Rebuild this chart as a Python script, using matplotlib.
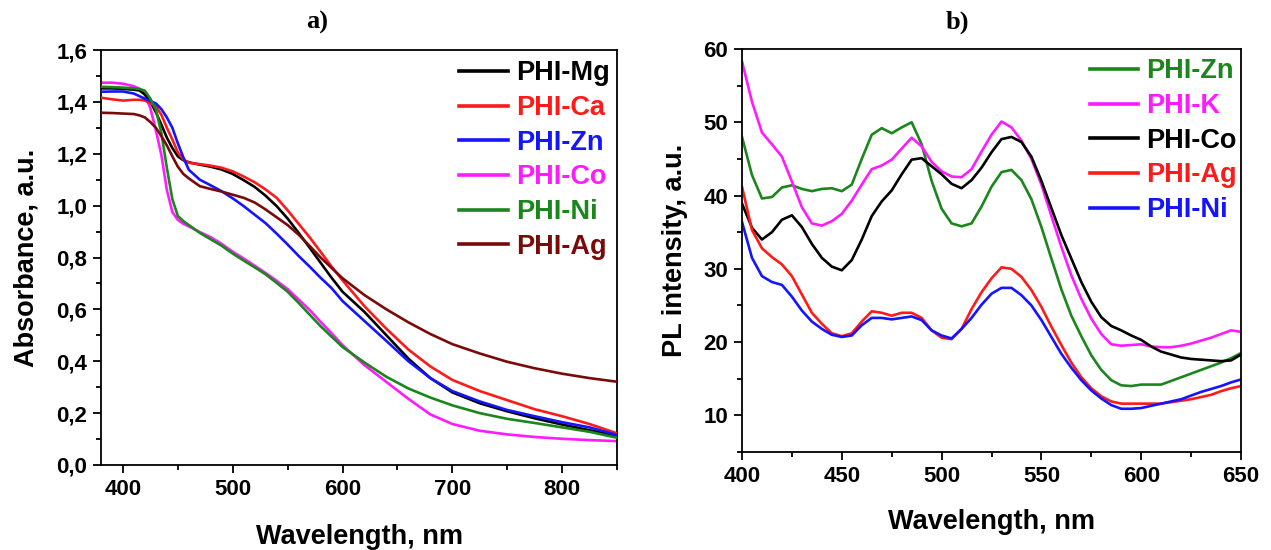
import matplotlib
matplotlib.use("Agg")
import matplotlib.pyplot as plt
from matplotlib.ticker import MultipleLocator, FuncFormatter

# ---------------- data: a) absorbance ----------------
wl_abs = [380, 390, 400, 410, 415, 420, 425, 430, 435, 440, 445, 450, 455, 460,
          470, 480, 490, 500, 510, 520, 530, 540, 550, 560, 570, 580, 590, 600,
          620, 640, 660, 680, 700, 725, 750, 775, 800, 825, 850]

abs_mg = [1.452, 1.452, 1.450, 1.447, 1.444, 1.428, 1.400, 1.360, 1.312, 1.262, 1.222, 1.190, 1.175, 1.167,
          1.158, 1.150, 1.139, 1.122, 1.098, 1.072, 1.038, 0.998, 0.950, 0.895, 0.838, 0.780, 0.722, 0.668,
          0.590, 0.500, 0.410, 0.335, 0.280, 0.238, 0.207, 0.180, 0.156, 0.134, 0.112]
abs_ca = [1.416, 1.410, 1.405, 1.408, 1.408, 1.405, 1.395, 1.383, 1.350, 1.300, 1.255, 1.205, 1.178, 1.165,
          1.160, 1.154, 1.146, 1.132, 1.112, 1.090, 1.062, 1.030, 0.982, 0.930, 0.878, 0.822, 0.765, 0.712,
          0.612, 0.525, 0.445, 0.380, 0.328, 0.285, 0.250, 0.215, 0.188, 0.158, 0.122]
abs_zn = [1.439, 1.440, 1.440, 1.432, 1.422, 1.412, 1.403, 1.394, 1.372, 1.340, 1.300, 1.240, 1.186, 1.138,
          1.100, 1.078, 1.055, 1.028, 0.998, 0.965, 0.932, 0.892, 0.850, 0.806, 0.765, 0.722, 0.682, 0.632,
          0.555, 0.478, 0.400, 0.335, 0.285, 0.245, 0.212, 0.188, 0.165, 0.145, 0.116]
abs_co = [1.474, 1.474, 1.470, 1.460, 1.450, 1.430, 1.375, 1.290, 1.195, 1.060, 0.975, 0.945, 0.930, 0.920,
          0.898, 0.878, 0.852, 0.822, 0.796, 0.768, 0.740, 0.710, 0.678, 0.638, 0.598, 0.552, 0.508, 0.462,
          0.385, 0.320, 0.255, 0.195, 0.158, 0.132, 0.118, 0.108, 0.101, 0.096, 0.092]
abs_ni = [1.458, 1.457, 1.455, 1.452, 1.450, 1.443, 1.412, 1.370, 1.280, 1.145, 1.025, 0.960, 0.940, 0.925,
          0.895, 0.870, 0.845, 0.815, 0.788, 0.762, 0.735, 0.702, 0.668, 0.625, 0.580, 0.535, 0.495, 0.455,
          0.395, 0.340, 0.295, 0.260, 0.230, 0.200, 0.178, 0.162, 0.145, 0.128, 0.105]
abs_ag = [1.358, 1.357, 1.355, 1.353, 1.348, 1.340, 1.322, 1.300, 1.268, 1.232, 1.190, 1.150, 1.122, 1.105,
          1.075, 1.064, 1.054, 1.042, 1.030, 1.012, 0.985, 0.955, 0.925, 0.888, 0.845, 0.800, 0.760, 0.720,
          0.655, 0.600, 0.550, 0.505, 0.466, 0.430, 0.398, 0.373, 0.352, 0.335, 0.321]

abs_labels = ["PHI-Mg", "PHI-Ca", "PHI-Zn", "PHI-Co", "PHI-Ni", "PHI-Ag"]

# ---------------- data: b) photoluminescence ----------------
wl_pl = list(range(400, 651, 5))

pl_zn = [48.0, 42.8, 39.6, 39.8, 41.1, 41.4, 40.9, 40.6, 40.9, 41.0, 40.6, 41.5, 45.0, 48.3, 49.2, 48.5,
         49.3, 50.0, 47.0, 42.0, 38.2, 36.2, 35.8, 36.2, 38.5, 41.2, 43.2, 43.5, 42.1, 39.5, 35.7, 31.4,
         27.2, 23.6, 20.8, 18.2, 16.2, 14.8, 14.1, 14.0, 14.2, 14.2, 14.2, 14.7, 15.2, 15.7, 16.2, 16.7,
         17.2, 17.8, 18.5]
pl_k = [58.3, 52.8, 48.6, 47.0, 45.3, 41.9, 38.4, 36.2, 35.9, 36.5, 37.5, 39.3, 41.5, 43.6, 44.1, 44.9,
        46.4, 47.9, 46.7, 44.6, 43.3, 42.6, 42.5, 43.6, 46.0, 48.3, 50.1, 49.3, 47.5, 45.0, 41.5, 37.2,
        33.0, 29.1, 25.9, 23.2, 21.1, 19.7, 19.5, 19.6, 19.7, 19.4, 19.3, 19.3, 19.5, 19.8, 20.2, 20.6,
        21.1, 21.6, 21.4]
pl_co = [38.9, 35.6, 34.0, 35.0, 36.7, 37.3, 35.7, 33.4, 31.5, 30.3, 29.8, 31.2, 34.0, 37.2, 39.2, 40.7,
         42.9, 44.9, 45.1, 44.0, 42.9, 41.6, 41.0, 42.1, 43.8, 45.9, 47.7, 48.0, 47.3, 45.3, 42.0, 38.3,
         34.6, 31.4, 28.2, 25.5, 23.4, 22.2, 21.6, 20.9, 20.3, 19.4, 18.7, 18.3, 17.9, 17.7, 17.6, 17.5,
         17.4, 17.5, 18.3]
pl_ag = [41.2, 35.3, 32.8, 31.6, 30.6, 29.0, 26.5, 24.0, 22.5, 21.2, 20.8, 21.2, 22.8, 24.2, 24.0, 23.6,
         24.0, 24.0, 23.3, 21.6, 20.6, 20.4, 21.8, 24.5, 26.8, 28.7, 30.2, 30.0, 28.9, 27.1, 24.8, 22.1,
         19.6, 17.2, 15.2, 13.7, 12.6, 11.9, 11.6, 11.6, 11.6, 11.6, 11.6, 11.8, 12.0, 12.2, 12.5, 12.8,
         13.3, 13.7, 14.0]
pl_ni = [36.4, 31.5, 29.0, 28.2, 27.8, 26.2, 24.3, 22.8, 21.8, 21.0, 20.7, 20.9, 22.3, 23.3, 23.3, 23.1,
         23.3, 23.5, 23.0, 21.6, 20.9, 20.5, 21.8, 23.3, 25.1, 26.6, 27.4, 27.4, 26.4, 25.0, 23.0, 20.7,
         18.4, 16.5, 14.8, 13.4, 12.3, 11.4, 10.9, 10.9, 11.0, 11.3, 11.6, 11.9, 12.2, 12.7, 13.2, 13.6,
         14.0, 14.5, 14.9]

pl_labels = ["PHI-Zn", "PHI-K", "PHI-Co", "PHI-Ag", "PHI-Ni"]

# ---------------- styling ----------------
C_BLACK = "#000000"
C_RED = "#ff1a1a"
C_BLUE = "#1414ff"
C_MAG = "#ff1aff"
C_GREEN = "#1b861b"
C_DRED = "#7a0a0a"

SANS = ["Liberation Sans", "DejaVu Sans"]
SERIF = ["Liberation Serif", "DejaVu Serif"]
plt.rcParams["font.family"] = SANS
plt.rcParams["font.weight"] = "bold"
plt.rcParams["axes.linewidth"] = 1.3

fig = plt.figure(figsize=(12.71, 5.50), dpi=100)
W, H = 1271.0, 550.0


def add_axes(x0, x1, y0, y1):
    return fig.add_axes([x0 / W, 1 - y1 / H, (x1 - x0) / W, (y1 - y0) / H])


def style(ax):
    ax.tick_params(which="both", direction="out", top=False, right=False,
                   labelsize=16, width=1.3, pad=4)
    ax.tick_params(which="major", length=6)
    ax.tick_params(which="minor", length=3.5)
    for lab in ax.get_xticklabels() + ax.get_yticklabels():
        lab.set_fontweight("bold")


LW = 1.9
LEG_PROP = {"family": SANS, "weight": "bold", "size": 19.5}

# ----- a) -----
ax1 = add_axes(101, 617, 50, 465)
series_a = [abs_mg, abs_ca, abs_zn, abs_co, abs_ni, abs_ag]
colors_a = [C_BLACK, C_RED, C_BLUE, C_MAG, C_GREEN, C_DRED]
zorders_a = [3, 4, 5, 2, 6, 7]
for ys, c, lab, z in zip(series_a, colors_a, abs_labels, zorders_a):
    ax1.plot(wl_abs, ys, color=c, lw=LW, label=lab, zorder=z)
ax1.set_xlim(380, 850)
ax1.set_ylim(0.0, 1.6)
ax1.xaxis.set_major_locator(MultipleLocator(100))
ax1.xaxis.set_minor_locator(MultipleLocator(50))
ax1.yaxis.set_major_locator(MultipleLocator(0.2))
ax1.yaxis.set_minor_locator(MultipleLocator(0.1))
ax1.yaxis.set_major_formatter(FuncFormatter(lambda v, p: f"{v:.1f}".replace(".", ",")))
style(ax1)
ax1.set_xlabel("Wavelength, nm", fontsize=19.5, fontweight="bold", labelpad=17)
ax1.set_ylabel("Absorbance, a.u.", fontsize=19.5, fontweight="bold", labelpad=12)
h, l = ax1.get_legend_handles_labels()
leg1 = ax1.legend(h, l, loc="upper left", bbox_to_anchor=(0.683, 0.988), frameon=False,
                  prop=LEG_PROP, handlelength=1.8, handletextpad=0.3, labelspacing=0.32,
                  borderaxespad=0, borderpad=0.2)
for txt, line in zip(leg1.get_texts(), leg1.get_lines()):
    txt.set_color(line.get_color())
    line.set_linewidth(2.6)

# ----- b) -----
ax2 = add_axes(742, 1241, 49, 452)
series_b = [pl_zn, pl_k, pl_co, pl_ag, pl_ni]
colors_b = [C_GREEN, C_MAG, C_BLACK, C_RED, C_BLUE]
for ys, c, lab in zip(series_b, colors_b, pl_labels):
    ax2.plot(wl_pl, ys, color=c, lw=LW, label=lab)
ax2.set_xlim(400, 650)
ax2.set_ylim(5, 60)
ax2.xaxis.set_major_locator(MultipleLocator(50))
ax2.xaxis.set_minor_locator(MultipleLocator(25))
ax2.yaxis.set_major_locator(MultipleLocator(10))
ax2.yaxis.set_minor_locator(MultipleLocator(5))
ax2.set_yticks([10, 20, 30, 40, 50, 60])
style(ax2)
ax2.set_xlabel("Wavelength, nm", fontsize=19.5, fontweight="bold", labelpad=16)
ax2.set_ylabel("PL intensity, a.u.", fontsize=19.5, fontweight="bold", labelpad=11)
leg2 = ax2.legend(loc="upper left", bbox_to_anchor=(0.686, 0.99), frameon=False,
                  prop=LEG_PROP, handlelength=1.8, handletextpad=0.3, labelspacing=0.32,
                  borderaxespad=0, borderpad=0.2)
for txt, line in zip(leg2.get_texts(), leg2.get_lines()):
    txt.set_color(line.get_color())
    line.set_linewidth(2.6)

# ----- panel titles -----
fig.text(317 / W, 1 - 22 / H, "a)", ha="center", va="center", fontsize=19,
         fontweight="bold", family=SERIF)
fig.text(957 / W, 1 - 22 / H, "b)", ha="center", va="center", fontsize=19,
         fontweight="bold", family=SERIF)

fig.savefig("out.png", dpi=100)
